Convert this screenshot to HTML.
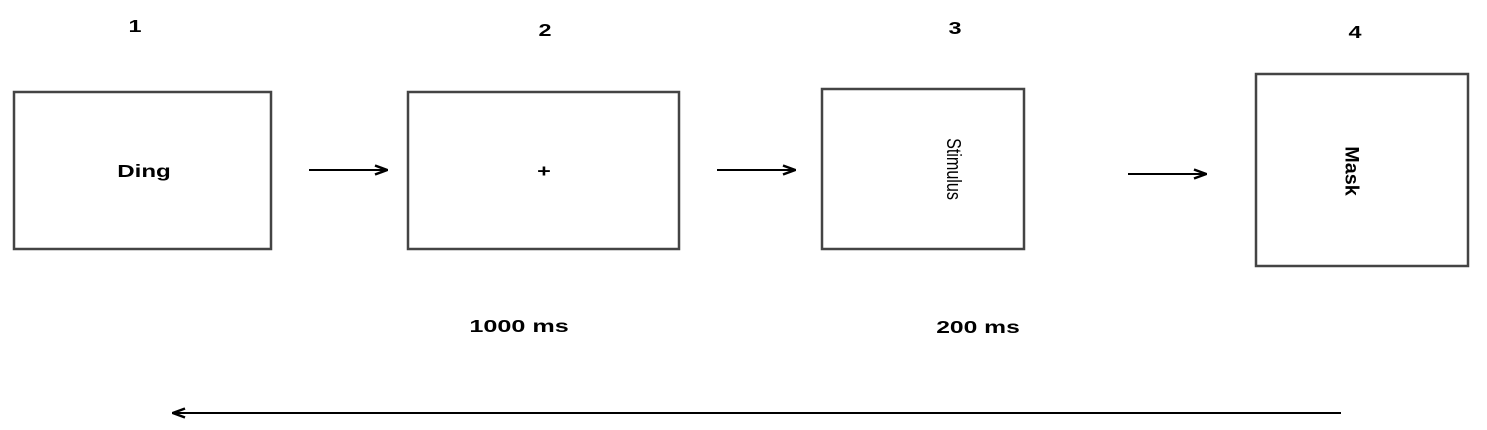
<!DOCTYPE html>
<html><head><meta charset="utf-8"><style>
html,body{margin:0;padding:0;background:#fff;}
svg{display:block;}
text{font-family:"Liberation Sans",Arial,sans-serif;fill:#000;}
</style></head><body>
<svg width="1487" height="430" viewBox="0 0 1487 430">
<defs>
<marker id="ah" markerWidth="14" markerHeight="12" refX="13" refY="6" orient="auto" markerUnits="userSpaceOnUse">
<path d="M1,1.5 L13,6 L1,10.5" fill="none" stroke="#000" stroke-width="2.5"/>
</marker>
</defs>
<g fill="none" stroke="#444" stroke-width="2.5">
<rect x="14" y="92" width="257" height="157"/>
<rect x="408" y="92" width="271" height="157"/>
<rect x="822" y="89" width="202" height="160"/>
<rect x="1256" y="74" width="212" height="192"/>
</g>
<g stroke="#000" stroke-width="2">
<line x1="309" y1="170" x2="387" y2="170" marker-end="url(#ah)"/>
<line x1="717" y1="170" x2="795" y2="170" marker-end="url(#ah)"/>
<line x1="1128" y1="174" x2="1206" y2="174" marker-end="url(#ah)"/>
<line x1="1341" y1="413" x2="173" y2="413" marker-end="url(#ah)"/>
</g>
<g font-weight="bold" font-size="18" text-anchor="middle">
<text transform="translate(135,32) scale(1.3,1)">1</text>
<text transform="translate(545,36) scale(1.3,1)">2</text>
<text transform="translate(955,34) scale(1.3,1)">3</text>
<text transform="translate(1355,38) scale(1.3,1)">4</text>
<text transform="translate(144,177) scale(1.34,1)">Ding</text>
<text transform="translate(544,177) scale(1.3,1)">+</text>
<text transform="translate(519,332) scale(1.4,1)">1000 ms</text>
<text transform="translate(978,333) scale(1.37,1)">200 ms</text>
<text transform="translate(1352,171) rotate(90) scale(1.1,1.1)" y="6">Mask</text>
</g>
<text transform="translate(954,169) rotate(90) scale(0.95,1.2)" y="6" font-size="17" text-anchor="middle">Stimulus</text>
</svg>
</body></html>
